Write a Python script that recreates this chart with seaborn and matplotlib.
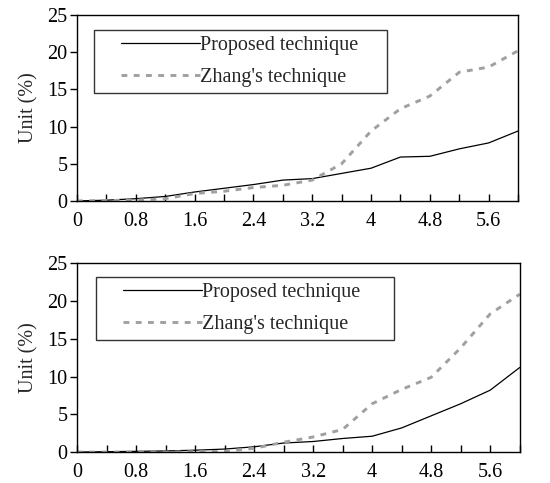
import matplotlib
matplotlib.use("Agg")
import matplotlib.pyplot as plt
import seaborn as sns
import pandas as pd
import numpy as np
from matplotlib.legend_handler import HandlerLine2D

sns.set_theme(style="white")
plt.rcParams['font.family'] = ['Liberation Serif', 'DejaVu Serif']

x_vals = [0, 0.4, 0.8, 1.2, 1.6, 2.0, 2.4, 2.8, 3.2, 3.6, 4.0, 4.4, 4.8, 5.2, 5.6, 6.0]

top_proposed = [0, 0.1, 0.3, 0.6, 1.2, 1.7, 2.2, 2.8, 3.0, 3.7, 4.4, 5.9, 6.0, 7.0, 7.8, 9.4]
top_zhang = [0, 0.05, 0.1, 0.3, 1.0, 1.3, 1.8, 2.1, 2.8, 5.0, 9.4, 12.4, 14.1, 17.3, 18.0, 20.2]

bot_proposed = [0, 0.05, 0.1, 0.15, 0.25, 0.4, 0.7, 1.2, 1.4, 1.8, 2.1, 3.2, 4.8, 6.4, 8.2, 11.2]
bot_zhang = [0, 0, 0, 0, 0.05, 0.1, 0.5, 1.3, 2.0, 3.0, 6.4, 8.3, 9.9, 13.8, 18.3, 20.9]

series_names = ["Proposed technique", "Zhang's technique"]
xtick_labels = ["0", "0.8", "1.6", "2.4", "3.2", "4", "4.8", "5.6"]
ytick_vals = [0, 5, 10, 15, 20, 25]
ylabel = "Unit (%)"

FS = 14.5

fig = plt.figure(figsize=(5.5, 4.83), dpi=100)
ax_top = fig.add_axes([0.14, 0.584, 0.802, 0.385])
ax_bot = fig.add_axes([0.14, 0.064, 0.805, 0.391])


def draw(ax, prop, zhang, legend_bbox):
    df = pd.DataFrame({
        "x": x_vals * 2,
        "y": prop + zhang,
        "series": [series_names[0]] * len(x_vals) + [series_names[1]] * len(x_vals),
    })
    sns.lineplot(data=df[df.series == series_names[0]], x="x", y="y", ax=ax,
                 color="black", linewidth=0.9, label=series_names[0])
    sns.lineplot(data=df[df.series == series_names[1]], x="x", y="y", ax=ax,
                 color="#a0a0a0", linewidth=2.1, linestyle=(0, (2.0, 2.2)),
                 label=series_names[1])
    ax.set_xlim(0, 6.0)
    ax.set_ylim(0, 25)
    ax.set_xticks(np.arange(0, 6.01, 0.4))
    labels = []
    for i in range(16):
        labels.append(xtick_labels[i // 2] if (i % 2 == 0 and i // 2 < len(xtick_labels)) else "")
    ax.set_xticklabels(labels)
    ax.set_yticks(ytick_vals)
    ax.set_yticklabels([str(v) for v in ytick_vals])
    ax.tick_params(axis="x", direction="in", length=5, width=1, colors="black",
                   labelsize=FS, pad=8, bottom=True)
    ax.tick_params(axis="y", direction="out", length=5, width=1, colors="black",
                   labelsize=FS, pad=2, left=True)
    ax.set_xlabel("")
    ax.set_ylabel(ylabel, fontsize=FS, labelpad=6)
    for s in ax.spines.values():
        s.set_visible(True)
        s.set_color("black")
        s.set_linewidth(1.0)
    handles, lbls = ax.get_legend_handles_labels()
    leg = ax.legend(handles, lbls, loc="upper left", bbox_to_anchor=legend_bbox,
                    mode="expand", borderaxespad=0, fontsize=FS, frameon=True,
                    fancybox=False, edgecolor="black", handlelength=4.95,
                    handletextpad=0.0, borderpad=0.3, labelspacing=0.62,
                    handler_map={h: HandlerLine2D(xpad=1.05) for h in handles})
    leg.get_frame().set_linewidth(1.0)


draw(ax_top, top_proposed, top_zhang, (0.039, 0.586, 0.664, 0.334))
draw(ax_bot, bot_proposed, bot_zhang, (0.043, 0.60, 0.672, 0.326))

fig.savefig("out.png", dpi=100, facecolor="white")
